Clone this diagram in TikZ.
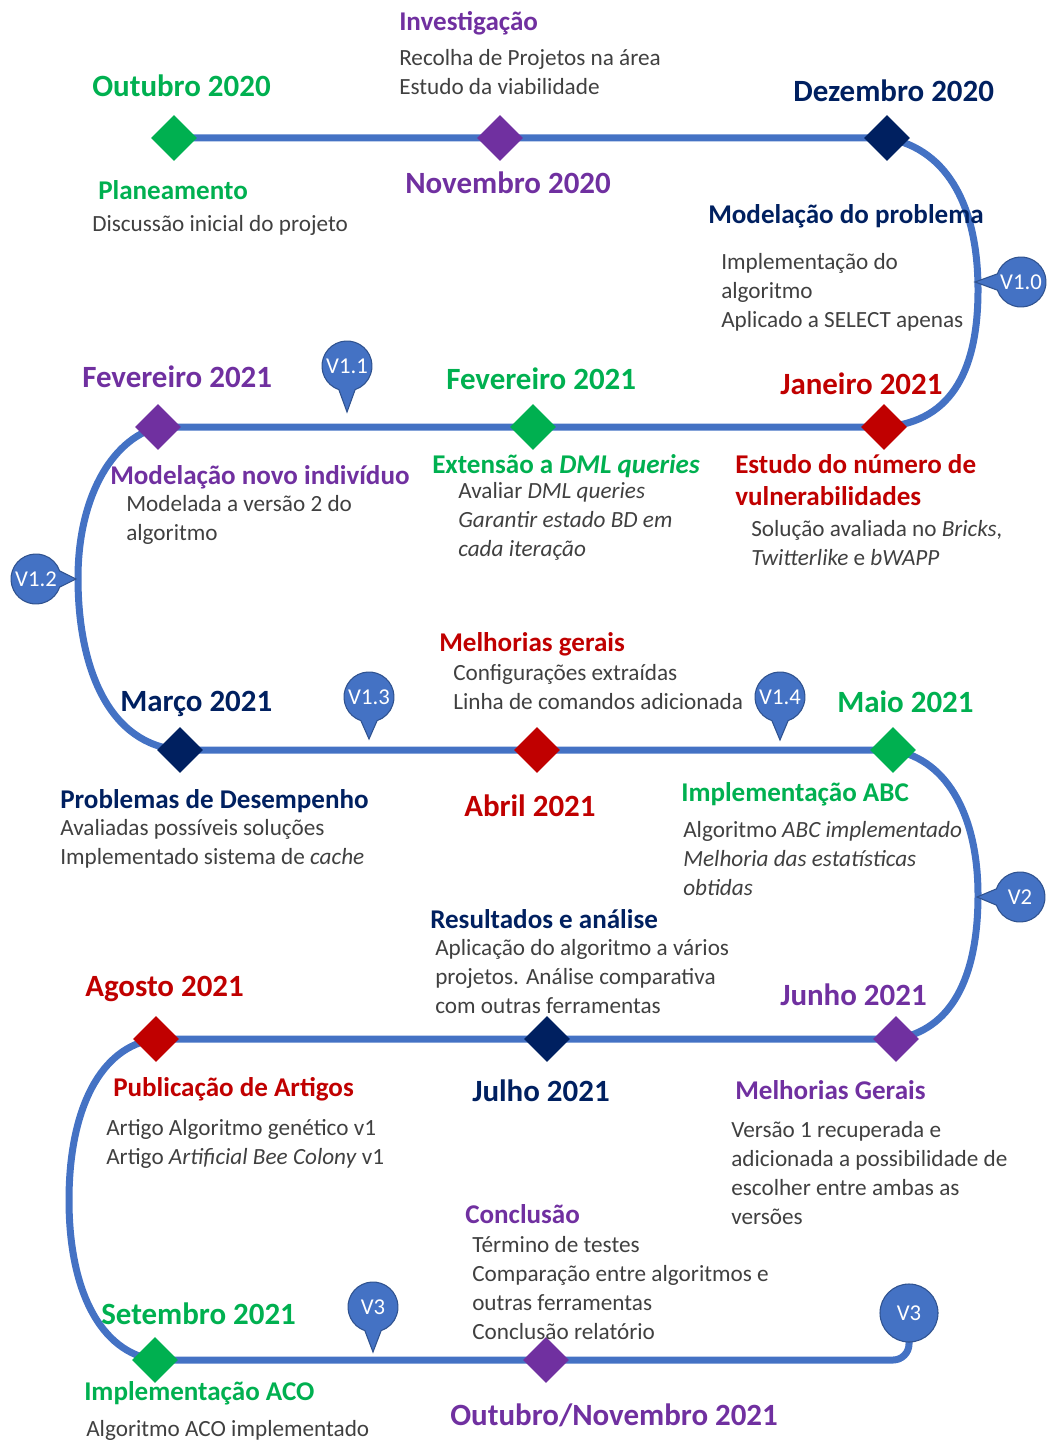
\documentclass[tikz,border=0pt]{standalone}
\usepackage{fontspec}
\setmainfont{Carlito}
\usetikzlibrary{shapes.geometric,calc}

\definecolor{tlgreen}{HTML}{00B050}
\definecolor{tlpurple}{HTML}{7030A0}
\definecolor{tlnavy}{HTML}{002060}
\definecolor{tlred}{HTML}{C00000}
\definecolor{tlblue}{HTML}{4472C4}
\definecolor{tledge}{HTML}{2F528F}
\definecolor{tlgray}{HTML}{404040}

% version pin: name, cx, cy, tail direction, tail length, label
\newcommand\tlbubble[6]{%
  \path[bubble] ($(#2,#3)+(#4:#5)$) -- ($(#2,#3)+(#4+19:25)$)
    arc[start angle=#4+19,end angle=#4+341,radius=25] -- cycle;
  \node[btext] (#1) at (#2,#3) {#6};}

\begin{document}
\begin{tikzpicture}[x=0.75pt,y=-0.75pt,
  track/.style={draw=tlblue,line width=5.25pt},
  milestone/.style={diamond,inner sep=0pt,minimum width=34.5pt,minimum height=34.5pt,fill=#1},
  month/.style={anchor=north west,inner sep=0pt,yshift=-1.5pt,text=#1,font=\fontsize{23.2}{28}\selectfont\bfseries},
  topic/.style={anchor=north west,inner sep=0pt,yshift=-1.5pt,text=#1,align=left,font=\fontsize{20.3}{24}\selectfont\bfseries},
  detail/.style={anchor=north west,inner sep=0pt,yshift=-1.5pt,text=tlgray,align=left,font=\fontsize{17.4}{21.75}\selectfont},
  bubble/.style={fill=tlblue,draw=tledge,line width=0.8pt},
  btext/.style={text=white,inner sep=0pt,font=\fontsize{17}{20}\selectfont}]

\path[use as bounding box] (0,0) rectangle (1049,1441);

% milestone positions
\coordinate (pOct) at (174,138);
\coordinate (pNov) at (500,138);
\coordinate (pDez) at (887,138);
\coordinate (pJan) at (884,427);
\coordinate (pFevG) at (533,427);
\coordinate (pFevP) at (158,427);
\coordinate (pMar) at (180,750);
\coordinate (pAbr) at (537,750);
\coordinate (pMai) at (893,750);
\coordinate (pJun) at (896,1039);
\coordinate (pJul) at (547,1039);
\coordinate (pAgo) at (156,1039);
\coordinate (pSet) at (155,1360);
\coordinate (pOutNov) at (546,1360);
\coordinate (pV3) at (909,1313);

% the winding timeline
\draw[track] (pOct) -- (pNov) -- (pDez)
  .. controls (950,150) and (978,210) .. (978,290)
  .. controls (978,365) and (955,422) .. (pJan)
  -- (pFevG) -- (pFevP)
  .. controls (110,440) and (78,500) .. (78,578)
  .. controls (78,670) and (110,745) .. (pMar)
  -- (pAbr) -- (pMai)
  .. controls (950,760) and (978,820) .. (978,895)
  .. controls (978,980) and (950,1030) .. (pJun)
  -- (pJul) -- (pAgo)
  .. controls (100,1046) and (69,1110) .. (69,1200)
  .. controls (69,1290) and (100,1352) .. (pSet)
  -- (pOutNov) [rounded corners=12pt] -- (pV3 |- pOutNov) -- (pV3);

% version pins
\tlbubble{v10}{1021}{282}{180}{46}{V1.0}
\tlbubble{v11}{347}{366}{90}{46}{V1.1}
\tlbubble{v12}{36}{579}{0}{40}{V1.2}
\tlbubble{v13}{369}{697}{90}{42}{V1.3}
\tlbubble{v14}{780}{697}{90}{43}{V1.4}
\tlbubble{v2}{1020}{897}{180}{43}{V2}
\tlbubble{v3a}{373}{1307}{90}{45}{V3}
\node[circle,fill=tlblue,draw=tledge,line width=0.8pt,minimum size=43.5pt,inner sep=0pt,
  text=white,font=\fontsize{17}{20}\selectfont] (v3b) at (pV3) {V3};

% milestones
\node[milestone=tlgreen] (oct) at (pOct) {};
\node[milestone=tlpurple] (nov) at (pNov) {};
\node[milestone=tlnavy] (dez) at (pDez) {};
\node[milestone=tlred] (jan) at (pJan) {};
\node[milestone=tlgreen] (fevg) at (pFevG) {};
\node[milestone=tlpurple] (fevp) at (pFevP) {};
\node[milestone=tlnavy] (mar) at (pMar) {};
\node[milestone=tlred] (abr) at (pAbr) {};
\node[milestone=tlgreen] (mai) at (pMai) {};
\node[milestone=tlpurple] (jun) at (pJun) {};
\node[milestone=tlnavy] (jul) at (pJul) {};
\node[milestone=tlred] (ago) at (pAgo) {};
\node[milestone=tlgreen] (set) at (pSet) {};
\node[milestone=tlpurple] (outnov) at (pOutNov) {};

% labels
\node[topic=tlpurple] (tInv) at (399,9) {Investigação};
\node[detail] (dInv) at (399,47) {Recolha de Projetos na área\\Estudo da viabilidade};
\node[month=tlgreen] (mOct) at (92,73) {Outubro 2020};
\node[month=tlnavy] (mDez) at (793,78) {Dezembro 2020};
\node[topic=tlgreen] (tPlan) at (98,178) {Planeamento};
\node[detail] (dPlan) at (92,213) {Discussão inicial do projeto};
\node[month=tlpurple] (mNov) at (405,170) {Novembro 2020};
\node[topic=tlnavy] (tMod) at (708,202) {Modelação do problema};
\node[detail] (dMod) at (721,251) {Implementação do\\algoritmo\\Aplicado a SELECT apenas};

\node[month=tlpurple] (mFevP) at (82,364) {Fevereiro 2021};
\node[month=tlgreen] (mFevG) at (446,366) {Fevereiro 2021};
\node[month=tlred] (mJan) at (780,371) {Janeiro 2021};
\node[topic=tlpurple] (tInd) at (110,463) {Modelação novo indivíduo};
\node[detail] (dInd) at (126,493) {Modelada a versão 2 do\\algoritmo};
\node[topic=tlgreen] (tDML) at (432,452) {Extensão a \textit{DML queries}};
\node[detail] (dDML) at (458,480) {Avaliar \textit{DML queries}\\\textit{Garantir estado BD em}\\\textit{cada iteração}};
\node[topic=tlred] (tVul) at (735,452) {Estudo do número de\\vulnerabilidades};
\node[detail] (dVul) at (751,518) {Solução avaliada no \textit{Bricks,}\\\textit{Twitterlike} e \textit{bWAPP}};

\node[topic=tlred] (tMel) at (439,630) {Melhorias gerais};
\node[detail] (dMel) at (453,662) {Configurações extraídas\\Linha de comandos adicionada};
\node[month=tlnavy] (mMar) at (120,689) {Março 2021};
\node[month=tlgreen] (mMai) at (837,689) {Maio 2021};
\node[topic=tlnavy] (tDes) at (60,787) {Problemas de Desempenho};
\node[detail] (dDes) at (60,817) {Avaliadas possíveis soluções\\Implementado sistema de \textit{cache}};
\node[month=tlred] (mAbr) at (464,793) {Abril 2021};
\node[topic=tlgreen] (tABC) at (681,780) {Implementação ABC};
\node[detail] (dABC) at (683,819) {Algoritmo \textit{ABC implementado}\\\textit{Melhoria das estatísticas}\\\textit{obtidas}};

\node[topic=tlnavy] (tRes) at (430,907) {Resultados e análise};
\node[detail] (dRes) at (435,937) {Aplicação do algoritmo a vários\\projetos. Análise comparativa\\com outras ferramentas};
\node[month=tlred] (mAgo) at (85,974) {Agosto 2021};
\node[month=tlpurple] (mJun) at (780,982) {Junho 2021};
\node[topic=tlred] (tPub) at (113,1075) {Publicação de Artigos};
\node[detail] (dPub) at (106,1117) {Artigo Algoritmo genético v1\\Artigo \textit{Artificial Bee Colony} v1};
\node[month=tlnavy] (mJul) at (472,1078) {Julho 2021};
\node[topic=tlpurple] (tMG) at (735,1078) {Melhorias Gerais};
\node[detail] (dMG) at (731,1119) {Versão 1 recuperada e\\adicionada a possibilidade de\\escolher entre ambas as\\versões};

\node[topic=tlpurple] (tCon) at (465,1202) {Conclusão};
\node[detail] (dCon) at (472,1234) {Término de testes\\Comparação entre algoritmos e\\outras ferramentas\\Conclusão relatório};
\node[month=tlgreen] (mSet) at (101,1301) {Setembro 2021};
\node[topic=tlgreen] (tACO) at (84,1379) {Implementação ACO};
\node[detail] (dACO) at (86,1418) {Algoritmo ACO implementado};
\node[month=tlpurple] (mOutNov) at (450,1402) {Outubro/Novembro 2021};
\end{tikzpicture}
\end{document}
